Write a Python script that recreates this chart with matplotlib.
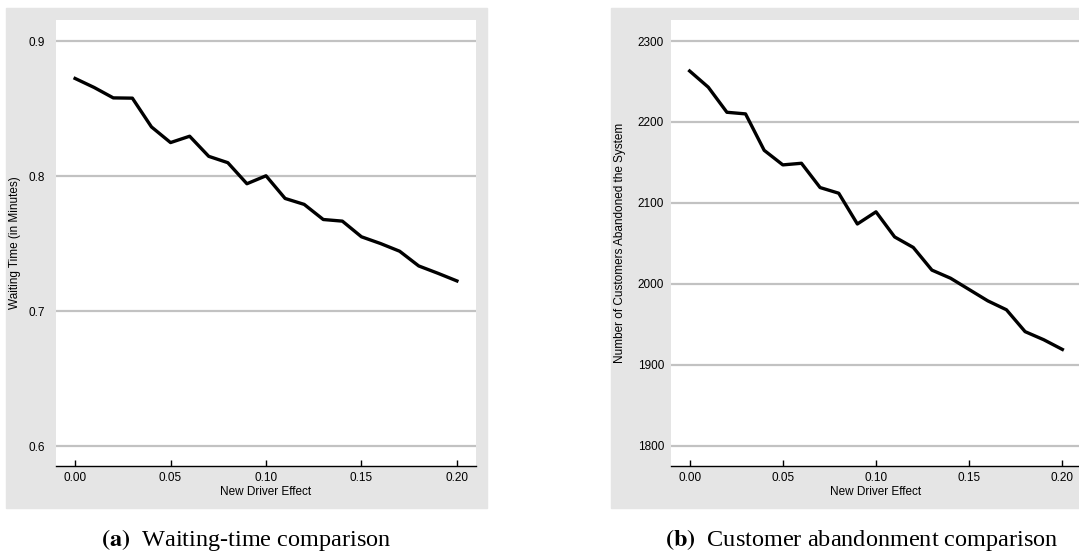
import matplotlib.pyplot as plt
from matplotlib.patches import Rectangle

effect = [0.00, 0.01, 0.02, 0.03, 0.04, 0.05, 0.06, 0.07, 0.08, 0.09, 0.10,
          0.11, 0.12, 0.13, 0.14, 0.15, 0.16, 0.17, 0.18, 0.19, 0.20]
waiting = [0.8723, 0.8656, 0.8579, 0.8577, 0.8364, 0.8248, 0.8295, 0.8146,
           0.8099, 0.7943, 0.8002, 0.7834, 0.7790, 0.7678, 0.7666, 0.7550,
           0.7500, 0.7443, 0.7334, 0.7280, 0.7223]
abandoned = [2263, 2243, 2212, 2210, 2165, 2147, 2149, 2119, 2112, 2074, 2089,
             2058, 2045, 2017, 2007, 1993, 1979, 1968, 1941, 1931, 1919]

x_ticks = [0.00, 0.05, 0.10, 0.15, 0.20]
x_labels = ["0.00", "0.05", "0.10", "0.15", "0.20"]
wait_ticks = [0.6, 0.7, 0.8, 0.9]
aband_ticks = [1800, 1900, 2000, 2100, 2200, 2300]

plt.rcParams["font.family"] = ["Liberation Sans", "DejaVu Sans"]
plt.rcParams["mathtext.fontset"] = "stix"

W, H = 1079, 555
fig = plt.figure(figsize=(W / 100, H / 100), dpi=100)
bg = "#e5e5e5"

# grey panel backgrounds (right one runs off the page like the original)
fig.patches.append(Rectangle((6 / W, 1 - 508 / H), 481 / W, 500 / H,
                             transform=fig.transFigure, color=bg, zorder=-5))
fig.patches.append(Rectangle((611 / W, 1 - 508 / H), 481 / W, 500 / H,
                             transform=fig.transFigure, color=bg, zorder=-5))

ax1 = fig.add_axes([56 / W, 1 - 466 / H, 420 / W, 446 / H])
ax2 = fig.add_axes([671 / W, 1 - 466 / H, 410 / W, 446 / H])


def style(ax, yticks, ylim, ylabel, ypad, lab_x):
    ax.set_facecolor("white")
    for s in ["top", "right", "left"]:
        ax.spines[s].set_visible(False)
    ax.spines["bottom"].set_linewidth(1.0)
    ax.set_xlim(-0.01, 0.21)
    ax.set_ylim(*ylim)
    ax.set_xticks(x_ticks)
    ax.set_xticklabels(x_labels)
    ax.set_yticks(yticks)
    ax.tick_params(axis="x", direction="in", length=4, width=1,
                   labelsize=8.5, pad=4)
    ax.tick_params(axis="y", length=0, labelsize=8.5, pad=ypad)
    ax.grid(axis="y", color="#c2c2c2", linewidth=1.6)
    ax.set_axisbelow(True)
    ax.set_xlabel("New Driver Effect", fontsize=8.5, labelpad=1.5)
    ax.set_ylabel(ylabel, fontsize=8.5)
    ax.yaxis.set_label_coords(lab_x, 0.5)


ax1.plot(effect, waiting, color="black", linewidth=2.4)
style(ax1, wait_ticks, (0.5852, 0.9156), "Waiting Time (in Minutes)", 8,
      (21 - 56) / 420)

ax2.plot(effect, abandoned, color="black", linewidth=2.4)
style(ax2, aband_ticks, (1775, 2326),
      "Number of Customers Abandoned the System", 5, (626 - 671) / 410)

cy = 1 - 540 / H
fig.text(246 / W, cy, r"$\mathbf{(a)}$  Waiting-time comparison",
         ha="center", va="center", fontsize=17.5, family="Liberation Serif")
fig.text(862 / W, cy, r"$\mathbf{(b)}$  Customer abandonment comparison",
         ha="center", va="center", fontsize=17.5, family="Liberation Serif")

fig.savefig("out.png", dpi=100)
